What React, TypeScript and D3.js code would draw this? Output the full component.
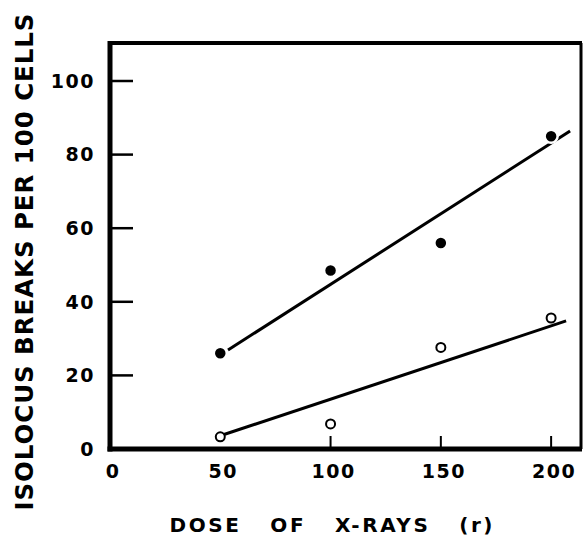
import { scaleLinear, line } from 'd3';

const doses = [50, 100, 150, 200];
const filledBreaks = [26, 48.5, 56, 85];
const openBreaks = [3.3, 6.8, 27.6, 35.6];

// fitted lines drawn by hand in the original
const upperFitX = [53.5, 208.6];
const upperFitY = [26.9, 86.4];
const lowerFitX = [51, 206.8];
const lowerFitY = [3.8, 34.8];

const yTickMarks = [20, 40, 60, 80, 100];
const yTickLabels = [0, 20, 40, 60, 80, 100];
const xTickMarks = [100, 150, 200];
const xTickLabels = [0, 50, 100, 150, 200];

const W = 584;
const H = 538;
const font = '"DejaVu Sans", sans-serif';

const x = scaleLinear().domain([0, 214]).range([110, 582]);
const y = scaleLinear().domain([0, 100]).range([449, 81]);

const fitLine = line<[number, number]>().x(d => x(d[0])).y(d => y(d[1]));

const App = () => {
    const top = y(110.3);
    const upper = fitLine(upperFitX.map((v, i) => [v, upperFitY[i]] as [number, number]));
    const lower = fitLine(lowerFitX.map((v, i) => [v, lowerFitY[i]] as [number, number]));

    return (
        <svg width={W} height={H} style={{ position: 'absolute', left: 0, top: 0, background: '#fff' }}>
            {/* frame */}
            <line x1={x(0)} x2={x(0)} y1={top - 2} y2={y(0) + 2.5} stroke="#000" strokeWidth={5} />
            <line x1={x(0) - 2.5} x2={x(214)} y1={y(0)} y2={y(0)} stroke="#000" strokeWidth={5} />
            <line x1={x(0)} x2={x(214)} y1={top} y2={top} stroke="#000" strokeWidth={4} />
            <line x1={x(214) - 1} x2={x(214) - 1} y1={top} y2={y(0)} stroke="#000" strokeWidth={3} />

            {/* y ticks */}
            {yTickMarks.map(t => (
                <line key={t} x1={x(0)} x2={x(0) + 23} y1={y(t)} y2={y(t)} stroke="#000" strokeWidth={2.5} />
            ))}
            {yTickLabels.map(t => (
                <text key={t} x={95} y={y(t)} dy="0.36em" textAnchor="end"
                    fontFamily={font} fontWeight="bold" fontSize={19} letterSpacing={1.5}>{t}</text>
            ))}

            {/* x ticks */}
            {xTickMarks.map(t => (
                <line key={t} x1={x(t)} x2={x(t)} y1={y(0)} y2={y(0) - 13} stroke="#000" strokeWidth={2} />
            ))}
            {xTickLabels.map(t => (
                <text key={t} x={x(t) + 3} y={471} dy="0.36em" textAnchor="middle"
                    fontFamily={font} fontWeight="bold" fontSize={19} letterSpacing={1.5}>{t}</text>
            ))}

            {/* fitted lines */}
            <path d={upper ?? ''} fill="none" stroke="#000" strokeWidth={3} />
            <path d={lower ?? ''} fill="none" stroke="#000" strokeWidth={3} />

            {/* points */}
            {doses.map((d, i) => (
                <circle key={'f' + d} cx={x(d)} cy={y(filledBreaks[i])} r={6.5} fill="#000" stroke="#fff" strokeWidth={2.5} />
            ))}
            {doses.map((d, i) => (
                <circle key={'o' + d} cx={x(d)} cy={y(openBreaks[i])} r={4.5} fill="#fff" stroke="#000" strokeWidth={2} />
            ))}

            {/* axis titles */}
            <text transform="translate(24, 262) rotate(-90)" textAnchor="middle" dy="0.36em"
                fontFamily={font} fontWeight="bold" fontSize={24.5} textLength={497} lengthAdjust="spacing">
                ISOLOCUS BREAKS PER 100 CELLS
            </text>
            <text x={331} y={525} dy="0.36em" textAnchor="middle" style={{ whiteSpace: 'pre' }}
                fontFamily={font} fontWeight="bold" fontSize={20} textLength={323} lengthAdjust="spacing">
                {'DOSE   OF   X-RAYS   (r)'}
            </text>
        </svg>
    );
};

export default App;
